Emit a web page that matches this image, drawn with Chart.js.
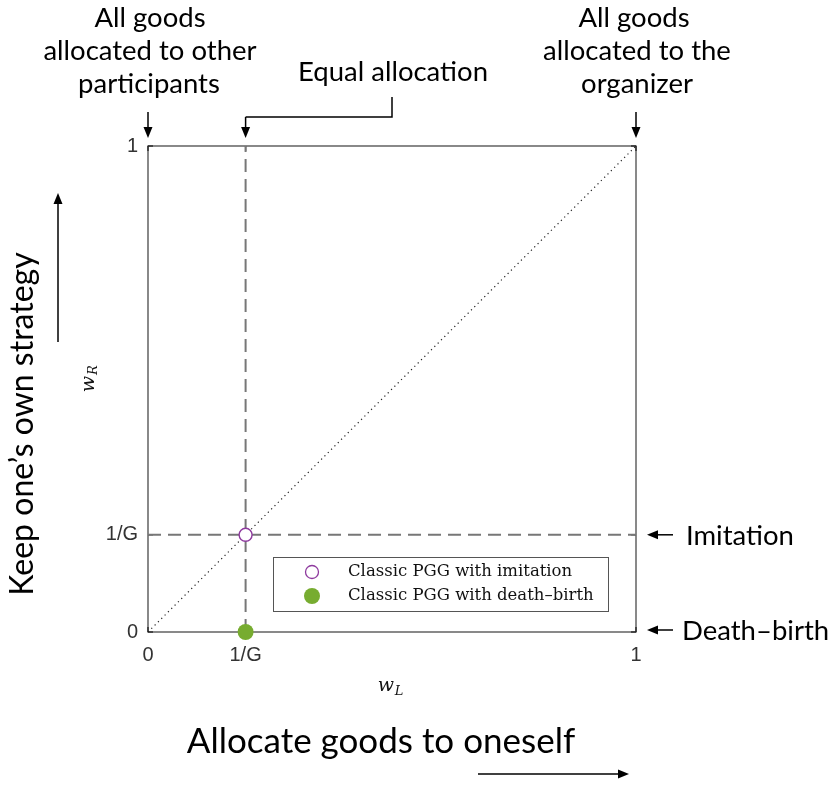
<!DOCTYPE html>
<html>
<head>
<meta charset="utf-8">
<script src="https://cdn.jsdelivr.net/npm/chart.js@4.4.0/dist/chart.umd.min.js"></script>
<style>
  html, body { margin: 0; padding: 0; background: #fff; }
  #wrap { width: 834px; height: 787px; }
</style>
</head>
<body>
<div id="wrap"><canvas id="myChart" width="834" height="787"></canvas></div>
<script>
// values (G = 5, so 1/G = 0.2)
var invG = 0.2;
var tickValues = [0, invG, 1];
var tickLabels = ['0', '1/G', '1'];
var seriesNames = ['Classic PGG with imitation', 'Classic PGG with death\u2013birth'];
var imitationPoint = [{ x: invG, y: invG }];
var deathBirthPoint = [{ x: invG, y: 0 }];
var diagonal = [{ x: 0, y: 0 }, { x: 1, y: 1 }];
var equalLineX = [{ x: invG, y: 0 }, { x: invG, y: 1 }];
var equalLineY = [{ x: 0, y: invG }, { x: 1, y: invG }];

var purple = '#8e3a9e';
var green = '#77ac30';
var sansFont = 'Lato, "Open Sans", sans-serif';
var serifFont = '"DejaVu Serif", "Liberation Serif", serif';

function arrow(ctx, x1, y1, x2, y2) {
  var ang = Math.atan2(y2 - y1, x2 - x1);
  ctx.beginPath();
  ctx.moveTo(x1, y1);
  ctx.lineTo(x2 - 6 * Math.cos(ang), y2 - 6 * Math.sin(ang));
  ctx.stroke();
  ctx.beginPath();
  ctx.moveTo(x2, y2);
  ctx.lineTo(x2 - 11 * Math.cos(ang) + 4.5 * Math.sin(ang), y2 - 11 * Math.sin(ang) - 4.5 * Math.cos(ang));
  ctx.lineTo(x2 - 11 * Math.cos(ang) - 4.5 * Math.sin(ang), y2 - 11 * Math.sin(ang) + 4.5 * Math.cos(ang));
  ctx.closePath();
  ctx.fill();
}

// frame box, inner tick marks, legend box and all the annotation text
var extras = {
  id: 'extras',
  beforeDatasetsDraw: function (chart) {
    var ctx = chart.ctx;
    var a = chart.chartArea;
    var xs = chart.scales.x, ys = chart.scales.y;
    ctx.save();
    ctx.strokeStyle = '#4a4a4a';
    ctx.lineWidth = 1.3;
    ctx.strokeRect(a.left, a.top, a.right - a.left, a.bottom - a.top);
    ctx.strokeStyle = '#222';
    tickValues.forEach(function (v) {
      var px = xs.getPixelForValue(v);
      ctx.beginPath(); ctx.moveTo(px, a.bottom); ctx.lineTo(px, a.bottom - 5); ctx.stroke();
      ctx.beginPath(); ctx.moveTo(px, a.top); ctx.lineTo(px, a.top + 5); ctx.stroke();
      var py = ys.getPixelForValue(v);
      ctx.beginPath(); ctx.moveTo(a.left, py); ctx.lineTo(a.left + 5, py); ctx.stroke();
      ctx.beginPath(); ctx.moveTo(a.right, py); ctx.lineTo(a.right - 5, py); ctx.stroke();
    });
    ctx.restore();
  },
  afterDraw: function (chart) {
    var ctx = chart.ctx;
    var xs = chart.scales.x, ys = chart.scales.y;
    ctx.save();

    // legend
    var lx = 273, ly = 557, lw = 335, lh = 54;
    ctx.fillStyle = '#fff';
    ctx.fillRect(lx, ly, lw, lh);
    ctx.strokeStyle = '#555';
    ctx.lineWidth = 1;
    ctx.strokeRect(lx + 0.5, ly + 0.5, lw, lh);
    ctx.beginPath();
    ctx.arc(312, 572, 6.5, 0, Math.PI * 2);
    ctx.fillStyle = '#fff'; ctx.fill();
    ctx.strokeStyle = purple; ctx.lineWidth = 1.3; ctx.stroke();
    ctx.beginPath();
    ctx.arc(312, 596, 8, 0, Math.PI * 2);
    ctx.fillStyle = green; ctx.fill();
    ctx.fillStyle = '#111';
    ctx.font = '16.5px ' + serifFont;
    ctx.textAlign = 'left'; ctx.textBaseline = 'middle';
    ctx.fillText(seriesNames[0], 348, 572);
    ctx.fillText(seriesNames[1], 348, 596);

    // axis symbols
    ctx.font = 'italic 19px ' + serifFont;
    ctx.textAlign = 'center';
    ctx.fillText('w', 386, 686);
    ctx.font = 'italic 13px ' + serifFont;
    ctx.fillText('L', 399, 692);
    ctx.save();
    ctx.translate(89, 378);
    ctx.rotate(-Math.PI / 2);
    ctx.font = 'italic 19px ' + serifFont;
    ctx.fillText('w', -6, 0);
    ctx.font = 'italic 13px ' + serifFont;
    ctx.fillText('R', 8, 5);
    ctx.restore();

    // annotations
    ctx.fillStyle = '#000';
    ctx.strokeStyle = '#000';
    ctx.lineWidth = 1.5;
    ctx.font = '27.5px ' + sansFont;
    ctx.textAlign = 'center';
    ctx.fillText('All goods', 150, 18);
    ctx.fillText('allocated to other', 150, 51);
    ctx.fillText('participants', 149, 84);
    ctx.fillText('All goods', 634, 18);
    ctx.fillText('allocated to the', 637, 51);
    ctx.fillText('organizer', 637, 84);
    ctx.fillText('Equal allocation', 393, 72);

    var x0 = xs.getPixelForValue(0), xg = xs.getPixelForValue(invG), x1 = xs.getPixelForValue(1);
    arrow(ctx, x0, 112, x0, 138);
    arrow(ctx, x1, 112, x1, 138);
    ctx.beginPath();
    ctx.moveTo(392, 97); ctx.lineTo(392, 117); ctx.lineTo(xg, 117);
    ctx.stroke();
    arrow(ctx, xg, 117, xg, 138);

    var yg = ys.getPixelForValue(invG), y0 = ys.getPixelForValue(0);
    arrow(ctx, 673, yg, 647, yg);
    arrow(ctx, 673, y0 - 2, 647, y0 - 2);
    ctx.textAlign = 'left';
    ctx.fillText('Imitation', 686, yg + 1);
    ctx.fillText('Death\u2013birth', 682, y0 - 1);

    ctx.font = '35px ' + sansFont;
    ctx.textAlign = 'center';
    ctx.fillText('Allocate goods to oneself', 381, 742);
    arrow(ctx, 478, 774, 629, 774);

    ctx.save();
    ctx.translate(23, 424);
    ctx.rotate(-Math.PI / 2);
    ctx.font = '32px ' + sansFont;
    ctx.fillText('Keep one\u2019s own strategy', 0, 0);
    ctx.restore();
    arrow(ctx, 58, 342, 58, 193);

    ctx.restore();
  }
};

function fixedTicks(scale) {
  scale.ticks = tickValues.map(function (v) { return { value: v }; });
}

var tickFont = { family: '"Liberation Sans", Arial, sans-serif', size: 20 };

new Chart(document.getElementById('myChart'), {
  type: 'scatter',
  data: {
    datasets: [
      { data: diagonal, order: 2, showLine: true, borderColor: '#222', borderWidth: 1.2, borderDash: [1.2, 3.5], pointRadius: 0 },
      { data: equalLineX, order: 1, showLine: true, borderColor: '#777', borderWidth: 2, borderDash: [13, 7], pointRadius: 0 },
      { data: equalLineY, order: 1, showLine: true, borderColor: '#777', borderWidth: 2, borderDash: [13, 7], pointRadius: 0 },
      { label: seriesNames[0], data: imitationPoint, order: 0, clip: false, pointRadius: 6.5, pointBackgroundColor: '#fff', pointBorderColor: purple, pointBorderWidth: 1.4 },
      { label: seriesNames[1], data: deathBirthPoint, order: 0, clip: false, pointRadius: 8, pointBackgroundColor: green, pointBorderColor: green, pointBorderWidth: 0 }
    ]
  },
  options: {
    responsive: false,
    animation: false,
    layout: { padding: { left: 98, right: 198, top: 146, bottom: 125 } },
    plugins: { legend: { display: false }, tooltip: { enabled: false } },
    scales: {
      x: {
        type: 'linear', min: 0, max: 1,
        afterBuildTicks: fixedTicks,
        afterFit: function (scale) { scale.height = 30; },
        grid: { display: false, drawTicks: false },
        border: { display: false },
        ticks: {
          padding: 11,
          color: '#333',
          font: tickFont,
          callback: function (v) { return tickLabels[tickValues.indexOf(v)]; }
        }
      },
      y: {
        type: 'linear', min: 0, max: 1,
        afterBuildTicks: fixedTicks,
        afterFit: function (scale) { scale.width = 50; },
        grid: { display: false, drawTicks: false },
        border: { display: false },
        ticks: {
          padding: 10,
          color: '#333',
          font: tickFont,
          callback: function (v) { return tickLabels[tickValues.indexOf(v)]; }
        }
      }
    }
  },
  plugins: [extras]
});
</script>
</body>
</html>
